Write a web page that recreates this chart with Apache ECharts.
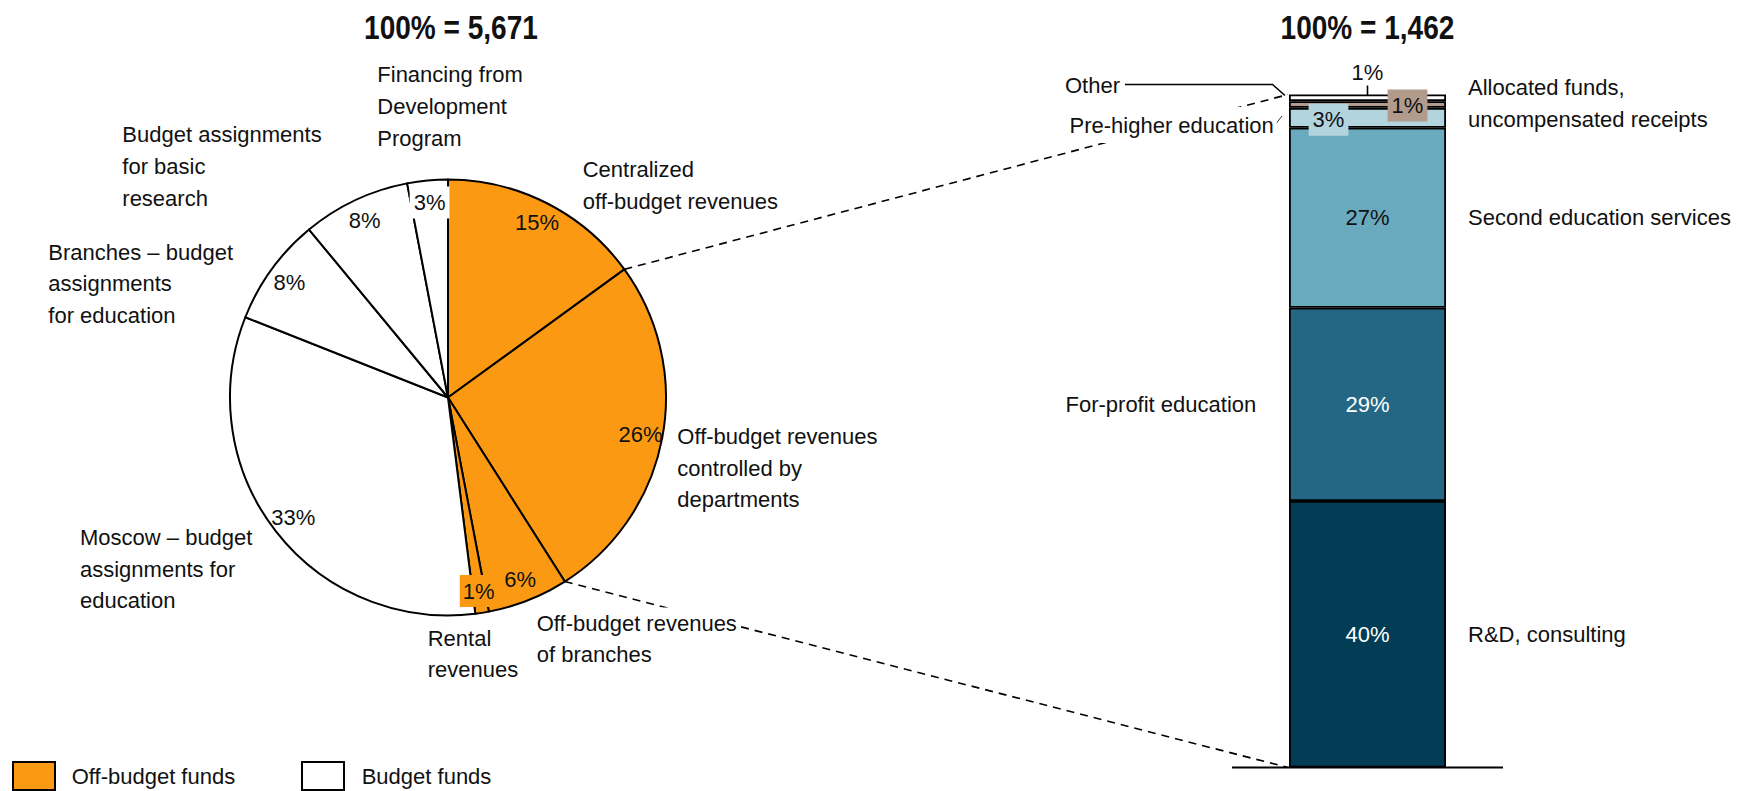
<!DOCTYPE html>
<html>
<head>
<meta charset="utf-8">
<title>Revenue structure</title>
<script src="https://cdn.jsdelivr.net/npm/echarts@6.0.0/dist/echarts.min.js"></script>
<style>
  html, body { margin: 0; padding: 0; background: #fff; }
  #main { width: 1742px; height: 791px; }
</style>
</head>
<body>
<div id="main"></div>
<script>
// ---- data ----
const pieCategories = [
  'Centralized\noff-budget revenues',
  'Off-budget revenues\ncontrolled by\ndepartments',
  'Off-budget revenues\nof branches',
  'Rental\nrevenues',
  'Moscow – budget\nassignments for\neducation',
  'Branches – budget\nassignments\nfor education',
  'Budget assignments\nfor basic\nresearch',
  'Financing from\nDevelopment\nProgram'
];
const pieShares = [15, 26, 6, 1, 33, 8, 8, 3];
const pieFundType = ['off', 'off', 'off', 'off', 'budget', 'budget', 'budget', 'budget'];
const pieTotalLabel = '100% = 5,671';
const pieExplodedIndex = 1; // slice broken down in the bar

const barCategories = [
  'R&D, consulting',
  'For-profit education',
  'Second education services',
  'Pre-higher education',
  'Allocated funds,\nuncompensated receipts',
  'Other'
];
const barShares = [40, 29, 27, 3, 1, 1];
const barTotalLabel = '100% = 1,462';

const legendLabels = ['Off-budget funds', 'Budget funds'];
const legendTypes = ['off', 'budget'];

// ---- styles & layout ----
const FONT = "'Liberation Sans', Arial, Helvetica, sans-serif";
const ORANGE = '#FB9A12';
const fundColors = { off: ORANGE, budget: '#FFFFFF' };
const barColors = ['#033C55', '#246785', '#6AAABF', '#B2D4DF', '#B09B8C', '#FFFFFF'];
const barLabelColors = ['#FFFFFF', '#FFFFFF', '#111111', '#111111', '#111111', '#111111'];

const PIE_CX = 448, PIE_CY = 397.5, PIE_R = 218;
const BAR_LEFT = 1289, BAR_TOP = 94.5, BAR_W = 157, BAR_H = 673;
const LINE_H = 31.6;

// anchors (left x, centre of first line) for the pie's category names
const pieNameAnchors = [
  [582.7, 170], [677.3, 436.7], [532.7, 623.3], [427.7, 638.3],
  [80, 537.5], [48.3, 252.3], [122.3, 135], [377.3, 75]
];

// placement for the bar's category names
const barNamePlacement = [
  { side: 'right' },
  { side: 'left' },
  { side: 'right' },
  { x: 1066.5, y: 125, mask: true },
  { x: 1468, y: 103.3 },
  { x: 1065, y: 85 }
];

const sum = arr => arr.reduce((a, b) => a + b, 0);
const pieSum = sum(pieShares);
const barSum = sum(barShares);

const chart = echarts.init(document.getElementById('main'), null, { renderer: 'svg' });

// inside-label extras for the narrow slices
const ringLabelExtras = {
  3: { backgroundColor: ORANGE, padding: [4, 3] },
  7: { backgroundColor: '#FFFFFF', padding: [4, 4] }
};

const pieMain = {
  type: 'pie',
  center: [PIE_CX, PIE_CY],
  radius: [0, PIE_R],
  startAngle: 90,
  clockwise: true,
  silent: true,
  avoidLabelOverlap: false,
  z: 2,
  itemStyle: { borderColor: '#000', borderWidth: 2 },
  label: {
    show: true, position: 'outside', formatter: '{b}',
    color: '#111', fontSize: 22, lineHeight: LINE_H, fontFamily: FONT
  },
  labelLine: { show: false },
  labelLayout: p => ({
    x: pieNameAnchors[p.dataIndex][0],
    y: pieNameAnchors[p.dataIndex][1] - LINE_H / 2,
    align: 'left',
    verticalAlign: 'top'
  }),
  data: pieCategories.map((name, i) => ({
    name,
    value: pieShares[i],
    itemStyle: { color: fundColors[pieFundType[i]] },
    label: i === 2 ? { backgroundColor: '#FFFFFF', padding: [0, 4] } : {}
  }))
};

// transparent ring that carries the percentage labels near the rim
const pieRing = {
  type: 'pie',
  center: [PIE_CX, PIE_CY],
  radius: [PIE_R * 0.77, PIE_R],
  startAngle: 90,
  clockwise: true,
  silent: true,
  avoidLabelOverlap: false,
  z: 3,
  itemStyle: { color: 'rgba(0,0,0,0)', borderWidth: 0 },
  label: {
    show: true, position: 'inside', formatter: '{c}%',
    color: '#111', fontSize: 22, lineHeight: 24, fontFamily: FONT
  },
  labelLine: { show: false },
  data: pieCategories.map((name, i) => ({
    name,
    value: pieShares[i],
    label: ringLabelExtras[i] || {}
  }))
};

const barLabelExtras = {
  3: { offset: [-39, 2], backgroundColor: '#B2D4DF', padding: [4, 4] },
  4: { offset: [40, 1], backgroundColor: '#B09B8C', padding: [4, 4] },
  5: { position: 'top', distance: 10 }
};

const barSeries = barCategories.map((name, i) => ({
  type: 'bar',
  name,
  stack: 'revenue',
  barWidth: '100%',
  silent: true,
  z: 2,
  data: [barShares[i]],
  itemStyle: { color: barColors[i], borderColor: '#000', borderWidth: 1.8 },
  label: Object.assign({
    show: true, position: 'inside', formatter: '{c}%',
    color: barLabelColors[i], fontSize: 22, lineHeight: 24, fontFamily: FONT
  }, barLabelExtras[i] || {})
}));

chart.setOption({
  animation: false,
  backgroundColor: '#FFFFFF',
  textStyle: { fontFamily: FONT },
  grid: { left: BAR_LEFT, top: BAR_TOP, width: BAR_W, height: BAR_H, containLabel: false },
  xAxis: { type: 'category', data: [''], show: false },
  yAxis: { type: 'value', min: 0, max: barSum, show: false },
  series: [pieMain, pieRing].concat(barSeries)
});

// ---- annotations positioned from the scales ----
const toPx = v => chart.convertToPixel({ xAxisIndex: 0, yAxisIndex: 0 }, [0, v]);
const barTop = toPx(barSum)[1];
const barBottom = toPx(0)[1];
const barCenterX = toPx(0)[0];

function piePoint(cumShare) {
  const a = cumShare / pieSum * 2 * Math.PI;
  return [PIE_CX + PIE_R * Math.sin(a), PIE_CY - PIE_R * Math.cos(a)];
}
const explodedStart = sum(pieShares.slice(0, pieExplodedIndex));
const explodedEnd = explodedStart + pieShares[pieExplodedIndex];
const pStart = piePoint(explodedStart);
const pEnd = piePoint(explodedEnd);

const textStyle = (text, extra) => Object.assign({
  text, fontSize: 22, fontFamily: FONT, fill: '#111', align: 'left', verticalAlign: 'middle', lineHeight: 32
}, extra || {});

const graphics = [];

// dashed connectors from the exploded slice to the bar
graphics.push({
  type: 'line', z: 1, silent: true,
  shape: { x1: pStart[0], y1: pStart[1], x2: BAR_LEFT - 1, y2: barTop },
  style: { stroke: '#000', lineWidth: 1.6, lineDash: [8, 6] }
});
graphics.push({
  type: 'line', z: 1, silent: true,
  shape: { x1: pEnd[0], y1: pEnd[1], x2: BAR_LEFT - 1, y2: barBottom },
  style: { stroke: '#000', lineWidth: 1.6, lineDash: [8, 6] }
});

// baseline under the bar
graphics.push({
  type: 'line', z: 5, silent: true,
  shape: { x1: 1232, y1: barBottom, x2: 1503, y2: barBottom },
  style: { stroke: '#000', lineWidth: 2 }
});

// bar category names
let cum = 0;
barCategories.forEach((name, i) => {
  const mid = toPx(cum + barShares[i] / 2)[1];
  cum += barShares[i];
  const pl = barNamePlacement[i];
  let x, y;
  if (pl.side === 'right') { x = 1468; y = mid; }
  else if (pl.side === 'left') { x = 1065.5; y = mid; }
  else { x = pl.x; y = pl.y; }
  graphics.push({
    type: 'text', z: 10, silent: true, x, y,
    style: textStyle(name, pl.mask ? { backgroundColor: '#FFFFFF', padding: [2, 3] } : {})
  });
});

// leader for "Other"
graphics.push({
  type: 'polyline', z: 6, silent: true,
  shape: { points: [[1125, 84.5], [1272.5, 84.5], [BAR_LEFT - 4, barTop + 1]] },
  style: { stroke: '#000', lineWidth: 1.6, fill: null }
});
// leader for "Pre-higher education"
graphics.push({
  type: 'line', z: 6, silent: true,
  shape: { x1: 1272.5, y1: 128, x2: 1282, y2: 116 },
  style: { stroke: '#333', lineWidth: 1 }
});
// tick from the top percentage to the bar
graphics.push({
  type: 'line', z: 6, silent: true,
  shape: { x1: barCenterX, y1: barTop - 9, x2: barCenterX, y2: barTop + 1 },
  style: { stroke: '#000', lineWidth: 1.6 }
});

// totals above each chart
[[pieTotalLabel, 451], [barTotalLabel, barCenterX]].forEach(([t, x]) => {
  graphics.push({
    type: 'text', z: 10, silent: true, x, y: 27, scaleX: 0.85,
    style: { text: t, fontSize: 33, fontWeight: 'bold', fontFamily: FONT, fill: '#111', align: 'center', verticalAlign: 'middle' }
  });
});

// legend
const legendX = [[13, 71.7], [302, 361.7]];
legendLabels.forEach((lab, i) => {
  graphics.push({
    type: 'rect', z: 10, silent: true,
    shape: { x: legendX[i][0], y: 762, width: 42, height: 28 },
    style: { fill: fundColors[legendTypes[i]], stroke: '#000', lineWidth: 2 }
  });
  graphics.push({
    type: 'text', z: 10, silent: true, x: legendX[i][1], y: 776,
    style: textStyle(lab)
  });
});

chart.setOption({ graphic: { elements: graphics } });
</script>
</body>
</html>
